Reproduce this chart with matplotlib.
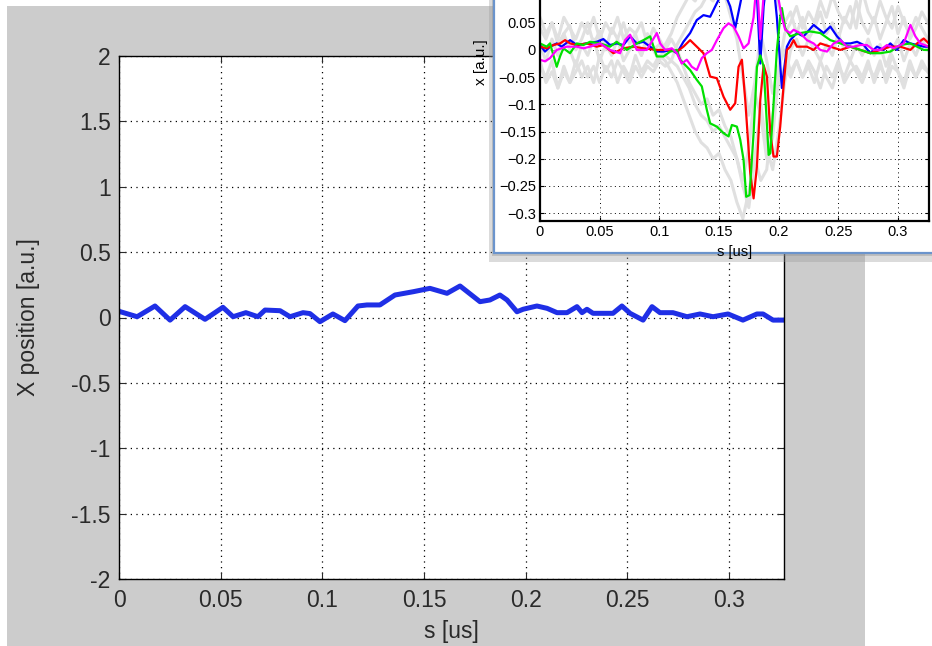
import numpy as np
import matplotlib.pyplot as plt
from matplotlib.patches import Rectangle

plt.rcParams['font.family'] = ['Liberation Sans', 'DejaVu Sans']

# ---- main trace: X position vs s ----
main_s = [0.0005, 0.0089, 0.0177, 0.0251, 0.0325, 0.0423, 0.0511, 0.0561, 0.0624, 0.0683,
          0.0718, 0.0792, 0.0841, 0.0905, 0.0939, 0.0988, 0.1052, 0.1111, 0.1175, 0.1219,
          0.1283, 0.1357, 0.1446, 0.1529, 0.1613, 0.1677, 0.1775, 0.1824, 0.1873, 0.1908,
          0.1957, 0.1987, 0.2055, 0.2105, 0.2154, 0.2203, 0.2252, 0.2277, 0.2301, 0.2331,
          0.2429, 0.2473, 0.2513, 0.2577, 0.2621, 0.2660, 0.2724, 0.2793, 0.2857, 0.2921,
          0.2995, 0.3068, 0.3137, 0.3167, 0.3216, 0.3270]
main_x = [0.045, 0.006, 0.088, -0.020, 0.083, -0.014, 0.078, 0.006, 0.037, 0.006,
          0.057, 0.052, 0.006, 0.037, 0.030, -0.032, 0.027, -0.024, 0.088, 0.096,
          0.096, 0.172, 0.197, 0.223, 0.185, 0.241, 0.121, 0.134, 0.172, 0.134,
          0.044, 0.063, 0.088, 0.070, 0.037, 0.037, 0.083, 0.037, 0.063, 0.032,
          0.032, 0.088, 0.032, -0.020, 0.083, 0.037, 0.037, 0.006, 0.027, 0.006,
          0.027, -0.020, 0.027, 0.027, -0.020, -0.020]

main_xticks = [0, 0.05, 0.1, 0.15, 0.2, 0.25, 0.3]
main_xticklabels = ['0', '0.05', '0.1', '0.15', '0.2', '0.25', '0.3']
main_yticks = [-2, -1.5, -1, -0.5, 0, 0.5, 1, 1.5, 2]
main_yticklabels = ['-2', '-1.5', '-1', '-0.5', '0', '0.5', '1', '1.5', '2']

# ---- inset traces ----
blue_s = [0, 0.0042, 0.0084, 0.014, 0.0182, 0.0252, 0.0308, 0.0391, 0.0475, 0.0531,
          0.0587, 0.0643, 0.0699, 0.0755, 0.0811, 0.0867, 0.0923, 0.0979, 0.1035, 0.1105,
          0.1147, 0.1202, 0.1258, 0.1314, 0.137, 0.1426, 0.1482, 0.1538, 0.1594, 0.1636,
          0.1692, 0.1762, 0.1818, 0.1846, 0.1874, 0.193, 0.1985, 0.2027, 0.2069, 0.2097,
          0.2153, 0.2209, 0.2293, 0.2377, 0.2433, 0.2489, 0.2545, 0.2601, 0.2657, 0.2713,
          0.2768, 0.2824, 0.288, 0.2936, 0.2992, 0.3048, 0.3104, 0.316, 0.3216, 0.3258]
blue_v = [0.009, -0.003, 0.006, 0.012, 0.006, 0.018, 0.009, 0.012, 0.015, 0.020,
          0.009, 0.012, 0.009, 0.025, 0.012, 0.015, 0.006, -0.003, -0.003, 0.0,
          -0.006, 0.015, 0.031, 0.055, 0.064, 0.061, 0.086, 0.110, 0.080, 0.040,
          0.100, 0.200, 0.100, -0.025, 0.080, 0.180, 0.060, -0.070, 0.006, 0.018,
          0.031, 0.025, 0.046, 0.031, 0.043, 0.025, 0.012, 0.012, 0.015, 0.009,
          -0.006, 0.006, 0.0, 0.012, 0.0, 0.018, 0.012, 0.009, 0.006, 0.006]

red_s = [0, 0.0056, 0.0112, 0.0168, 0.021, 0.0252, 0.0308, 0.0391, 0.0475, 0.0531,
         0.0615, 0.0699, 0.0783, 0.0867, 0.0979, 0.1063, 0.1147, 0.1202, 0.1258, 0.1314,
         0.137, 0.1426, 0.1482, 0.1538, 0.1594, 0.1636, 0.1664, 0.1692, 0.172, 0.1762,
         0.179, 0.1818, 0.1846, 0.1874, 0.1902, 0.193, 0.1957, 0.1985, 0.2013, 0.2041,
         0.2069, 0.2097, 0.2125, 0.2153, 0.2237, 0.2293, 0.2349, 0.2433, 0.2517, 0.2601,
         0.2685, 0.2768, 0.2852, 0.2936, 0.302, 0.3104, 0.316, 0.3216, 0.3258]
red_v = [0.006, 0.003, 0.009, 0.012, 0.018, 0.012, 0.009, 0.012, 0.006, 0.009,
         -0.006, 0.003, 0.006, 0.003, 0.0, 0.0, -0.003, 0.006, 0.018, 0.006,
         -0.006, -0.049, -0.052, -0.086, -0.110, -0.098, -0.031, -0.018, -0.092, -0.227,
         -0.273, -0.214, -0.092, -0.028, -0.049, -0.153, -0.196, -0.196, -0.141, -0.067,
         0.0, 0.006, 0.018, 0.006, 0.006, 0.0, 0.012, 0.006, 0.0, 0.006,
         0.0, -0.006, 0.0, 0.006, 0.006, 0.0, 0.012, 0.021, 0.012]

green_s = [0, 0.0056, 0.0084, 0.014, 0.0168, 0.0196, 0.0252, 0.0308, 0.0364, 0.0419,
           0.0503, 0.0587, 0.0643, 0.0727, 0.0811, 0.0867, 0.0923, 0.0979, 0.1035, 0.1091,
           0.1147, 0.1174, 0.1258, 0.1314, 0.1356, 0.1398, 0.1426, 0.1482, 0.1538, 0.158,
           0.1608, 0.165, 0.1678, 0.1706, 0.1728, 0.1756, 0.179, 0.1818, 0.1846, 0.1874,
           0.1916, 0.193, 0.1957, 0.1985, 0.2013, 0.2027, 0.2055, 0.2097, 0.2181, 0.2265,
           0.2349, 0.2433, 0.2517, 0.2601, 0.2685, 0.2768, 0.2852, 0.2936, 0.302, 0.3104,
           0.3216, 0.3258]
green_v = [0.012, 0.006, 0.012, -0.031, -0.012, 0.003, -0.006, 0.012, 0.009, 0.015,
           0.012, 0.006, 0.015, 0.0, 0.012, 0.018, 0.025, -0.012, -0.012, -0.003,
           0.0, -0.018, -0.037, -0.055, -0.067, -0.110, -0.135, -0.141, -0.153, -0.159,
           -0.138, -0.141, -0.165, -0.202, -0.270, -0.267, -0.153, -0.031, -0.010, -0.030,
           -0.193, -0.190, -0.100, 0.0, 0.060, 0.077, 0.040, 0.025, 0.031, 0.034,
           0.031, 0.018, 0.012, 0.006, 0.0, -0.006, -0.006, -0.003, 0.009, 0.012,
           0.0, 0.0]

magenta_s = [0, 0.0042, 0.0084, 0.014, 0.0224, 0.0308, 0.0364, 0.0419, 0.0503, 0.0587,
             0.0671, 0.0713, 0.0755, 0.0811, 0.0895, 0.0979, 0.1007, 0.1049, 0.1105, 0.1147,
             0.1188, 0.123, 0.1272, 0.1314, 0.1356, 0.1398, 0.144, 0.1482, 0.1538, 0.158,
             0.1622, 0.1664, 0.1706, 0.1748, 0.179, 0.1818, 0.1846, 0.1874, 0.193, 0.1985,
             0.2027, 0.2055, 0.2097, 0.2125, 0.2181, 0.2237, 0.2293, 0.2349, 0.2405, 0.2461,
             0.2517, 0.2573, 0.2629, 0.2685, 0.274, 0.2796, 0.2852, 0.2908, 0.2964, 0.3048,
             0.3104, 0.3146, 0.3188, 0.3258]
magenta_v = [-0.018, -0.021, -0.015, 0.0, 0.006, 0.006, 0.003, 0.006, 0.012, 0.0,
             -0.006, 0.018, 0.028, 0.0, 0.0, 0.031, 0.012, 0.0, 0.003, -0.006,
             -0.025, -0.018, -0.031, -0.037, -0.015, -0.006, 0.0, 0.018, 0.040, 0.049,
             0.043, 0.025, 0.003, 0.012, 0.060, 0.130, 0.020, 0.100, 0.150, 0.110,
             0.060, 0.037, 0.031, 0.037, 0.031, 0.018, 0.012, 0.0, -0.003, 0.012,
             0.018, 0.006, 0.006, 0.009, 0.009, 0.0, 0.0, 0.009, 0.003, 0.012,
             0.046, 0.025, 0.012, 0.006]

# background (gray) shots, sampled every 0.005 us
gray_s = np.linspace(0, 0.325, 66)
gray_1 = [0.04, 0.02, 0.05, 0.01, 0.03, 0.045, 0.0, 0.02, 0.05, 0.01, 0.035,
          0.0, 0.04, 0.02, 0.05, 0.01, 0.03, -0.01, 0.02, 0.0, -0.02, 0.01,
          0.03, 0.06, 0.08, 0.1, 0.09, 0.11, 0.12, 0.1, 0.13, 0.15, 0.12,
          0.14, 0.1, 0.12, 0.16, 0.2, 0.15, 0.18, 0.08, 0.05, 0.07, 0.03,
          0.06, 0.02, 0.04, 0.07, 0.03, 0.05, 0.02, 0.06, 0.04, 0.09, 0.05,
          0.03, 0.06, 0.02, 0.05, 0.08, 0.03, 0.06, 0.02, 0.04, 0.07, 0.05]
gray_2 = [-0.03, -0.05, -0.02, -0.07, -0.04, -0.06, -0.02, -0.05, -0.03, -0.06, -0.01,
          -0.04, -0.02, -0.06, -0.03, -0.05, -0.01, -0.04, -0.02, -0.03, -0.01, -0.02,
          -0.04, -0.06, -0.09, -0.12, -0.15, -0.17, -0.18, -0.2, -0.19, -0.22, -0.24,
          -0.28, -0.31, -0.26, -0.2, -0.24, -0.22, -0.12, -0.06, -0.03, -0.05, -0.02,
          -0.05, -0.02, -0.04, -0.07, -0.03, -0.05, -0.02, -0.06, -0.04, -0.03, -0.05,
          -0.02, -0.06, -0.03, -0.05, -0.01, -0.04, -0.07, -0.03, -0.05, -0.02, -0.04]
gray_3 = [0.01, -0.02, 0.02, -0.01, 0.03, 0.0, -0.03, 0.01, -0.01, 0.02, -0.02,
          0.01, -0.01, 0.02, -0.02, 0.0, 0.01, -0.01, 0.03, 0.0, 0.01, -0.01,
          -0.02, -0.03, -0.05, -0.07, -0.1, -0.12, -0.13, -0.15, -0.14, -0.16, -0.18,
          -0.2, -0.25, -0.29, -0.2, -0.1, -0.18, -0.22, -0.15, -0.06, 0.0, 0.02,
          -0.01, 0.02, 0.0, -0.02, 0.01, -0.01, 0.03, 0.0, -0.02, 0.01, -0.01,
          0.02, -0.01, 0.01, -0.03, 0.0, 0.02, -0.02, 0.01, -0.01, 0.02, 0.0]
gray_4 = [0.06, 0.03, 0.05, 0.02, 0.06, 0.04, 0.02, 0.05, 0.03, 0.06, 0.02,
          0.05, 0.03, 0.06, 0.02, 0.04, 0.03, 0.05, 0.01, 0.04, 0.02, 0.0,
          0.02, 0.0, -0.03, -0.06, -0.08, -0.1, -0.09, -0.12, -0.11, -0.14, -0.16,
          -0.2, -0.24, -0.18, -0.08, -0.12, -0.2, -0.16, -0.04, 0.03, 0.05, 0.08,
          0.04, 0.07, 0.05, 0.09, 0.06, 0.1, 0.07, 0.05, 0.08, 0.04, 0.11,
          0.07, 0.05, 0.09, 0.06, 0.04, 0.08, 0.05, 0.03, 0.06, 0.04, 0.02]
gray_5 = [-0.02, -0.06, -0.04, -0.07, -0.03, -0.06, -0.04, -0.02, -0.05, -0.03, -0.06,
          -0.03, -0.05, -0.02, -0.04, -0.06, -0.03, -0.05, -0.03, -0.04, -0.02, -0.03,
          -0.02, 0.01, 0.03, 0.05, 0.07, 0.08, 0.1, 0.09, 0.11, 0.1, 0.06,
          0.02, -0.05, -0.12, -0.06, 0.03, -0.02, -0.08, -0.03, 0.0, -0.04, -0.02,
          -0.05, -0.03, -0.06, -0.02, -0.05, -0.07, -0.03, -0.05, -0.02, -0.04, -0.06,
          -0.03, -0.05, -0.02, -0.06, -0.03, -0.04, -0.06, -0.02, -0.05, -0.03, -0.04]

inset_xticks = [0, 0.05, 0.1, 0.15, 0.2, 0.25, 0.3]
inset_xticklabels = ['0', '0.05', '0.1', '0.15', '0.2', '0.25', '0.3']
inset_yticks = [-0.3, -0.25, -0.2, -0.15, -0.1, -0.05, 0, 0.05]
inset_yticklabels = ['\u22120.3', '\u22120.25', '\u22120.2', '\u22120.15', '\u22120.1',
                     '\u22120.05', '0', '0.05']

W, H = 932, 646
fig = plt.figure(figsize=(W / 100, H / 100), dpi=100)
fig.patch.set_facecolor('white')

# gray MATLAB figure area
fig.patches.append(Rectangle((7 / W, 0), 858 / W, 640 / H, transform=fig.transFigure,
                             facecolor='#cccccc', edgecolor='none', zorder=-5))

# main axes
ax = fig.add_axes([119 / W, (H - 579) / H, 665 / W, 523 / H], zorder=1)
ax.plot(main_s, main_x, color='#1f2fe6', linewidth=3.6, solid_joinstyle='round')
ax.set_xlim(0, 0.327)
ax.set_ylim(-2, 2)
ax.set_xticks(main_xticks)
ax.set_xticklabels(main_xticklabels)
ax.set_yticks(main_yticks)
ax.set_yticklabels(main_yticklabels)
ax.grid(True, color='black', linestyle=(0, (1, 3.5)), linewidth=0.9)
ax.tick_params(direction='in', length=5, width=0.8, top=True, right=True,
               labelsize=16.5, colors='#2a2a2a', pad=7)
ax.tick_params(axis='y', pad=6)
for sp in ax.spines.values():
    sp.set_linewidth(1.0)
ax.set_xlabel('s [us]', fontsize=16.5, color='#2a2a2a')
ax.set_ylabel('X position [a.u.]', fontsize=16.5, color='#2a2a2a')
ax.xaxis.set_label_coords(0.5, -0.078)
ax.yaxis.set_label_coords(-0.119, 0.5)

# pasted inset window: shadow, white panel, blue border
fig.patches.append(Rectangle((489 / W, (H - 262) / H), 443 / W, 262 / H, transform=fig.transFigure,
                             facecolor='#9a9a9a', alpha=0.35, edgecolor='none', zorder=5))
fig.patches.append(Rectangle((492 / W, (H - 256) / H), 440 / W, 256 / H, transform=fig.transFigure,
                             facecolor='#8a8a8a', alpha=0.35, edgecolor='none', zorder=5))
fig.patches.append(Rectangle((494 / W, (H - 253) / H), 440 / W, 255 / H, transform=fig.transFigure,
                             facecolor='white', edgecolor='#6b94cc', linewidth=1.6, zorder=6))

ins = fig.add_axes([540 / W, (H - 220.7) / H, 389 / W, 317.6 / H], zorder=7)
ins.patch.set_alpha(0)
for g in [gray_1, gray_2, gray_3, gray_4, gray_5]:
    ins.plot(gray_s, g, color='#e0e0e0', linewidth=2.2)
ins.plot(blue_s, blue_v, color='#0000ff', linewidth=1.6)
ins.plot(red_s, red_v, color='#ff0000', linewidth=1.6)
ins.plot(green_s, green_v, color='#00e000', linewidth=1.6)
ins.plot(magenta_s, magenta_v, color='#ff00ff', linewidth=1.6)
ins.set_xlim(0, 0.326)
ins.set_ylim(-0.314, 0.27)
ins.set_xticks(inset_xticks)
ins.set_xticklabels(inset_xticklabels)
ins.set_yticks(inset_yticks)
ins.set_yticklabels(inset_yticklabels)
ins.grid(True, color='black', linestyle=(0, (1, 3.5)), linewidth=0.7)
ins.tick_params(direction='in', length=3, width=0.8, top=True, right=True,
                labelsize=10.5, colors='black', pad=3)
for sp in ins.spines.values():
    sp.set_linewidth(1.6)
ins.set_xlabel('s [us]', fontsize=10.5)
ins.set_ylabel('x [a.u.]', fontsize=11)
ins.xaxis.set_label_coords(0.5, -0.077)
ins.yaxis.set_label_coords(-0.134, 0.5)

fig.savefig('out.png', dpi=100)
